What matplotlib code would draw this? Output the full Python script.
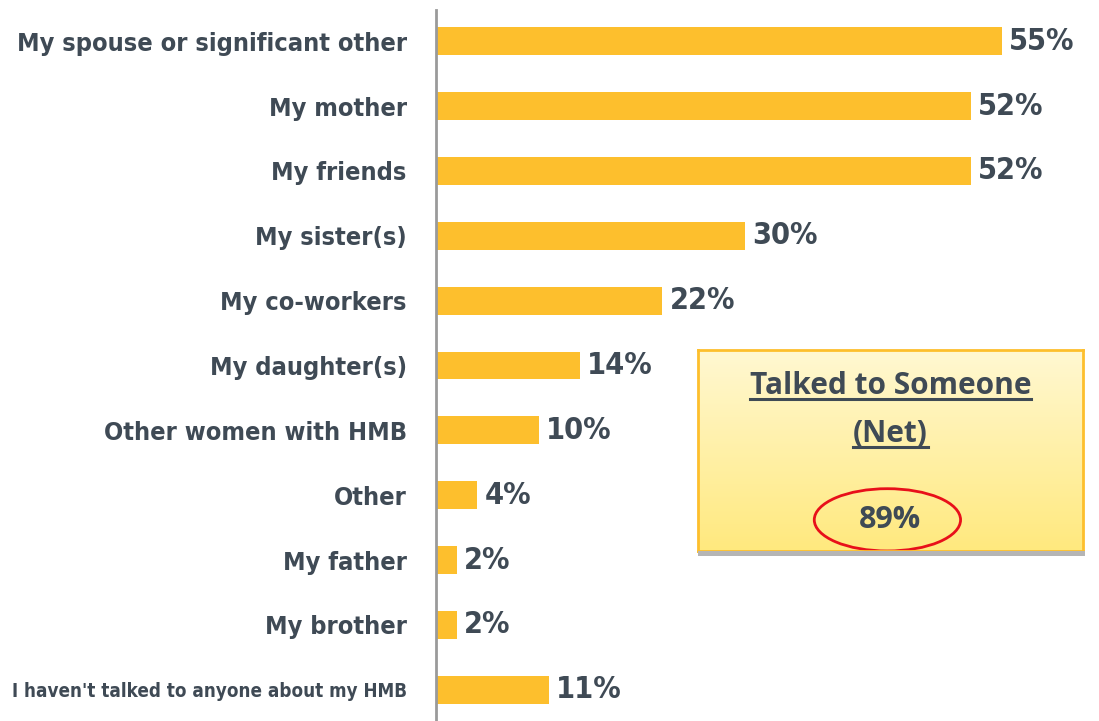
import numpy as np
import matplotlib
matplotlib.use("Agg")
import matplotlib.pyplot as plt
from matplotlib.patches import Ellipse, Rectangle

# data
categories = ["My spouse or significant other", "My mother", "My friends", "My sister(s)",
              "My co-workers", "My daughter(s)", "Other women with HMB", "Other",
              "My father", "My brother", "I haven't talked to anyone about my HMB"]
values = [55, 52, 52, 30, 22, 14, 10, 4, 2, 2, 11]
net_label = "Talked to Someone\n(Net)"
net_value = 89

bar_color = "#FDBF2D"
text_color = "#3F4A55"

fig = plt.figure(figsize=(10.99, 7.21), dpi=100)
ax = fig.add_axes([436 / 1099, 0, 617 / 1099, 711 / 721])

y = np.arange(len(categories))
ax.barh(y, values, height=0.43, color=bar_color)
ax.set_xlim(0, 60)
ax.set_ylim(10.48, -0.48)

lab_font = dict(family="DejaVu Sans", stretch="condensed", fontweight="bold", color=text_color)

for yi, v in zip(y, values):
    ax.text(v + 0.7, yi, f"{v}%", va="center", ha="left", fontsize=22, **lab_font)

ax.set_yticks(y)
ax.set_yticklabels(categories, fontsize=18, **lab_font)
ax.tick_params(axis="y", length=0, pad=21)
ax.set_xticks([])
for s in ["top", "right", "bottom"]:
    ax.spines[s].set_visible(False)
ax.spines["left"].set_color("#9A9A9A")
ax.spines["left"].set_linewidth(2)

# fit label sizes: first label about 390 px wide, none wider than the space left of the axis
fig.canvas.draw()
r = fig.canvas.get_renderer()
ticks = ax.get_yticklabels()
w0 = ticks[0].get_window_extent(r).width
base = 18 * 390 / w0
for t in ticks:
    t.set_fontsize(base)
fig.canvas.draw()
for t in ticks:
    w = t.get_window_extent(r).width
    if w > 395:
        t.set_fontsize(base * 395 / w)

# net callout box
bx = fig.add_axes([698 / 1099, (721 - 551) / 721, 385 / 1099, 201 / 721])
grad = np.linspace(0, 1, 256).reshape(-1, 1)
cmap = matplotlib.colors.LinearSegmentedColormap.from_list("g", ["#FFF8D2", "#FFE97E"])
bx.imshow(grad, aspect="auto", cmap=cmap, extent=[0, 1, 0, 1], origin="upper")
bx.set_xlim(0, 1)
bx.set_ylim(0, 1)
bx.set_xticks([])
bx.set_yticks([])
for s in bx.spines.values():
    s.set_color(bar_color)
    s.set_linewidth(2)

shadow = Rectangle((698 / 1099, (721 - 556) / 721), 387 / 1099, 5 / 721,
                   transform=fig.transFigure, facecolor="#B5B5B5", edgecolor="none", zorder=0)
fig.patches.append(shadow)

box_font = ["Open Sans", "DejaVu Sans"]
title_lines = net_label.split("\n")
tys = [0.82, 0.58]
for line, ty in zip(title_lines, tys):
    t = bx.text(0.5, ty, line, ha="center", va="center", fontsize=21.5, fontweight="bold",
                family=box_font, color=text_color)
    fig.canvas.draw()
    bb = t.get_window_extent().transformed(bx.transAxes.inverted())
    bx.plot([bb.x0, bb.x1], [bb.y0 + 0.01, bb.y0 + 0.01], color=text_color, lw=2.2)

bx.text(0.5, 0.155, f"{net_value}%", ha="center", va="center", fontsize=22,
        fontweight="bold", family=box_font, color=text_color)
bx.add_patch(Ellipse((0.492, 0.155), 0.38, 0.31, fill=False, edgecolor="#E8101A", lw=2))

fig.savefig("out.png", dpi=100)
